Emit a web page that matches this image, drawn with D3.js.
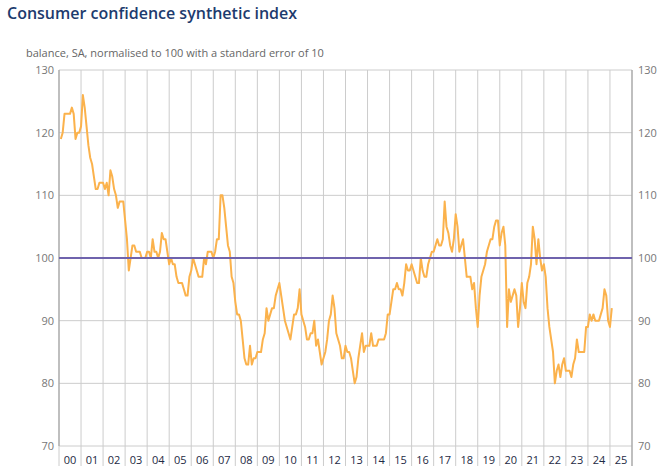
<!DOCTYPE html>
<html>
<head>
<meta charset="utf-8">
<script src="https://cdn.jsdelivr.net/npm/d3@7"></script>
<style>
  body { margin: 0; background: #fff; }
  text { font-family: "Open Sans", "Noto Sans", sans-serif; }
</style>
</head>
<body>
<script>
// monthly values, Jan 2000 .. Jan 2025, one row per year
const startYear = 2000;
const confidence = [
  119, 120, 123, 123, 123, 123, 124, 123, 119, 120, 120, 121, // 2000
  126, 124, 121, 118, 116, 115, 113, 111, 111, 112, 112, 112, // 2001
  111, 112, 110, 114, 113, 111, 110, 108, 109, 109, 109, 106, // 2002
  103, 98, 100, 102, 102, 101, 101, 101, 100, 100, 100, 101,  // 2003
  101, 100, 103, 101, 101, 100, 101, 104, 103, 103, 101, 99,  // 2004
  100, 99, 99, 97, 96, 96, 96, 95, 94, 94, 97, 98,            // 2005
  100, 99, 98, 97, 97, 97, 100, 99, 101, 101, 101, 100,       // 2006
  101, 103, 103, 110, 110, 108, 105, 102, 101, 97, 96, 93,    // 2007
  91, 91, 90, 87, 84, 83, 83, 86, 83, 84, 84, 85,             // 2008
  85, 85, 87, 88, 92, 90, 91, 92, 92, 94, 95, 96,             // 2009
  94, 92, 90, 89, 88, 87, 89, 91, 91, 92, 95, 91,             // 2010
  90, 89, 87, 87, 88, 88, 90, 86, 87, 85, 83, 84,             // 2011
  85, 87, 90, 91, 94, 92, 88, 87, 86, 84, 84, 86,             // 2012
  85, 85, 84, 82, 80, 81, 84, 86, 88, 85, 86, 86,             // 2013
  86, 88, 86, 86, 86, 87, 87, 87, 87, 88, 91, 91,             // 2014
  93, 95, 95, 96, 95, 95, 94, 96, 99, 98, 98, 99,             // 2015
  98, 97, 96, 96, 100, 98, 97, 97, 99, 100, 101, 101,         // 2016
  102, 103, 102, 102, 103, 109, 105, 104, 102, 101, 103, 107, // 2017
  105, 101, 102, 103, 100, 97, 97, 97, 95, 96, 92, 89,        // 2018
  94, 97, 98, 99, 101, 102, 103, 103, 105, 106, 106, 102,     // 2019
  104, 105, 102, 89, 95, 93, 94, 95, 94, 89, 92, 96,          // 2020
  93, 92, 96, 97, 99, 105, 103, 99, 103, 100, 98, 99,         // 2021
  97, 92, 89, 87, 85, 80, 82, 83, 81, 83, 84, 82,             // 2022
  82, 82, 81, 83, 84, 87, 85, 85, 85, 85, 89, 89,             // 2023
  91, 90, 91, 90, 90, 90, 91, 92, 95, 94, 90, 89,             // 2024
  92                                                          // 2025
];
const yearLabels = ['00','01','02','03','04','05','06','07','08','09','10','11','12',
                    '13','14','15','16','17','18','19','20','21','22','23','24','25'];
const yTicks = [70, 80, 90, 100, 110, 120, 130];
const refLevel = 100;

var W = 670, H = 475;
var margin = {top: 70, bottom: 29, left: 59, right: 38},
    width = W - margin.left - margin.right,
    height = H - margin.top - margin.bottom;

var svg = d3.select("body").append("svg")
    .attr("width", W)
    .attr("height", H);

// title + subtitle
svg.append("text")
    .attr("x", 7).attr("y", 19)
    .attr("font-size", 16).attr("font-weight", 600)
    .attr("fill", "#1d3b6e")
    .text("Consumer confidence synthetic index");

svg.append("text")
    .attr("x", 26).attr("y", 57)
    .attr("font-size", 11)
    .attr("fill", "#666")
    .text("balance, SA, normalised to 100 with a standard error of 10");

const g = svg.append("g")
    .attr("transform", `translate(${margin.left},${margin.top})`);

// scales
const xScale = d3.scaleLinear()
    .domain([startYear, startYear + yearLabels.length])
    .range([0, width]);

const yScale = d3.scaleLinear()
    .domain([70, 130])
    .range([height, 0]);

const years = d3.range(startYear, startYear + yearLabels.length + 1);

// horizontal grid
g.append("g")
    .selectAll("line")
    .data(yTicks)
    .join("line")
    .attr("x1", 0).attr("x2", width)
    .attr("y1", d => yScale(d)).attr("y2", d => yScale(d))
    .attr("stroke", "#cccccc").attr("stroke-width", 1);

// vertical year lines, running down past the axis as ticks
g.append("g")
    .selectAll("line")
    .data(years)
    .join("line")
    .attr("x1", d => xScale(d)).attr("x2", d => xScale(d))
    .attr("y1", 0).attr("y2", height + 20)
    .attr("stroke", "#cccccc").attr("stroke-width", 1);

// left + right axes (labels only, lines drawn below)
const yAxisL = d3.axisLeft(yScale).tickValues(yTicks).tickSize(0).tickPadding(5);
const yAxisR = d3.axisRight(yScale).tickValues(yTicks).tickSize(0).tickPadding(6);

g.append("g").call(yAxisL)
    .call(a => a.select(".domain").remove())
    .selectAll("text").attr("font-size", 11).attr("fill", "#777")
    .style("font-family", '"Open Sans", sans-serif');

g.append("g").attr("transform", `translate(${width},0)`).call(yAxisR)
    .call(a => a.select(".domain").remove())
    .selectAll("text").attr("font-size", 11).attr("fill", "#777")
    .style("font-family", '"Open Sans", sans-serif');

g.append("line")
    .attr("x1", 0).attr("x2", 0).attr("y1", 0).attr("y2", height)
    .attr("stroke", "#999");
g.append("line")
    .attr("x1", width).attr("x2", width).attr("y1", 0).attr("y2", height + 20)
    .attr("stroke", "#999");

// year labels centred in each band
g.append("g")
    .selectAll("text")
    .data(yearLabels)
    .join("text")
    .attr("x", (d, i) => xScale(startYear + i + 0.5))
    .attr("y", height + 18)
    .attr("text-anchor", "middle")
    .attr("font-size", 11)
    .attr("fill", "#1e2a44")
    .text(d => d);

// the series
const lineGenerator = d3.line()
    .x((d, i) => xScale(startYear + (i + 1) / 12))
    .y(d => yScale(d));

g.append("path")
    .attr("d", lineGenerator(confidence))
    .attr("fill", "none")
    .attr("stroke", "#fbb24c")
    .attr("stroke-width", 2)
    .attr("stroke-linejoin", "round");

// reference level
g.append("line")
    .attr("x1", 0).attr("x2", width)
    .attr("y1", yScale(refLevel)).attr("y2", yScale(refLevel))
    .attr("stroke", "#6f63ad").attr("stroke-width", 2);
</script>
</body>
</html>
